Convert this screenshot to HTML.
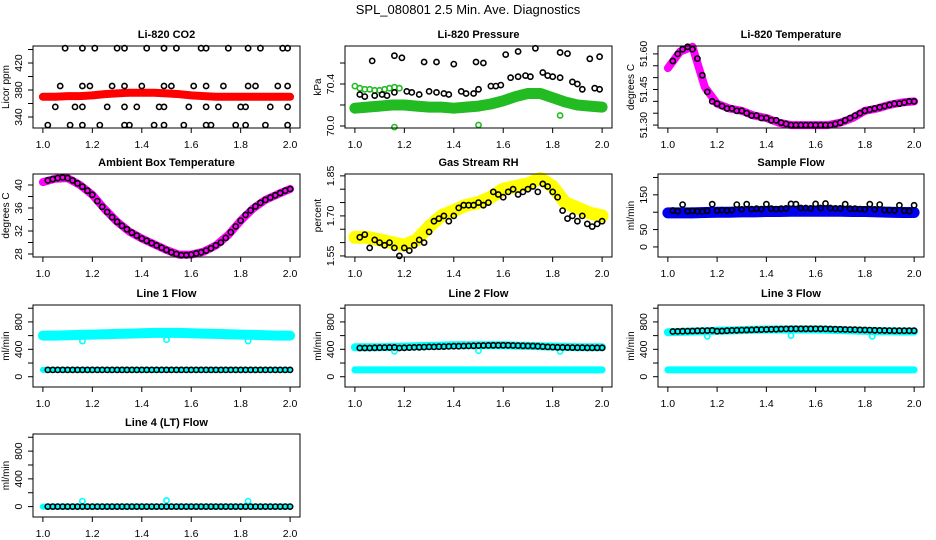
<!DOCTYPE html>
<html><head><meta charset="utf-8"><style>
html,body{margin:0;padding:0;background:#fff}
svg{display:block;font-family:"Liberation Sans",Arial,sans-serif}
</style></head><body>
<svg id="c" width="936" height="540" viewBox="0 0 936 540">
<rect width="936" height="540" fill="#fff"/>
<text x="468" y="14" text-anchor="middle" font-size="13">SPL_080801  2.5 Min. Ave. Diagnostics</text>
</svg>
<script>
const X50=[1.02,1.04,1.06,1.08,1.10,1.12,1.14,1.16,1.18,1.20,1.22,1.24,1.26,1.28,1.30,1.32,1.34,1.36,1.38,1.40,1.42,1.44,1.46,1.48,1.50,1.52,1.54,1.56,1.58,1.60,1.62,1.64,1.66,1.68,1.70,1.72,1.74,1.76,1.78,1.80,1.82,1.84,1.86,1.88,1.90,1.92,1.94,1.96,1.98,2.00];
const X21=[1.00,1.05,1.10,1.15,1.20,1.25,1.30,1.35,1.40,1.45,1.50,1.55,1.60,1.65,1.70,1.75,1.80,1.85,1.90,1.95,2.00];
const xTicks=[1.0,1.2,1.4,1.6,1.8,2.0];
const xTickLabels=["1.0","1.2","1.4","1.6","1.8","2.0"];

const co2BandY=[370,370,371,371,372,374,375,376,376,376,375,374,372,371,370,370,370,370,370,370,370];
const co2PtsX=[1.09,1.16,1.21,1.30,1.33,1.42,1.49,1.54,1.64,1.66,1.75,1.83,1.88,1.97,1.99,
1.07,1.16,1.19,1.28,1.33,1.40,1.49,1.52,1.61,1.66,1.73,1.83,1.86,1.95,1.99,
1.05,1.13,1.16,1.26,1.33,1.38,1.47,1.49,1.59,1.66,1.71,1.80,1.82,1.92,1.99,
1.02,1.11,1.16,1.23,1.33,1.35,1.45,1.49,1.57,1.66,1.68,1.78,1.82,1.90,1.99];
const co2PtsY=[442,442,442,442,442,442,442,442,442,442,442,442,442,442,442,
386,386,386,386,386,386,386,386,386,386,386,386,386,386,386,
355,355,355,355,355,355,355,355,355,355,355,355,355,355,355,
328,328,328,328,328,328,328,328,328,328,328,328,328,328,328];
const presBandY=[70.17,70.18,70.19,70.20,70.20,70.19,70.18,70.18,70.17,70.18,70.19,70.21,70.24,70.28,70.31,70.31,70.27,70.23,70.20,70.19,70.18];
const presGreenX=[1.00,1.02,1.04,1.06,1.08,1.10,1.12,1.14,1.16,1.18,1.16,1.50,1.83];
const presGreenY=[70.38,70.36,70.35,70.35,70.34,70.34,70.35,70.36,70.37,70.36,69.99,70.01,70.10];
const presPtsX=[1.07,1.16,1.19,1.28,1.33,1.40,1.49,1.52,1.61,1.66,1.73,1.83,1.86,1.95,1.99,
1.02,1.04,1.08,1.11,1.13,1.16,1.21,1.23,1.26,1.30,1.33,1.36,1.38,1.43,1.45,1.48,1.50,1.55,1.57,1.59,1.63,1.66,1.69,1.71,1.76,1.78,1.80,1.83,1.88,1.90,1.92,1.97,1.99];
const presPtsY=[70.62,70.67,70.65,70.61,70.61,70.59,70.61,70.60,70.68,70.71,70.74,70.70,70.69,70.64,70.66,
70.30,70.28,70.29,70.30,70.29,70.32,70.33,70.32,70.30,70.33,70.32,70.31,70.30,70.33,70.31,70.31,70.35,70.38,70.38,70.39,70.46,70.47,70.48,70.47,70.51,70.48,70.47,70.46,70.42,70.40,70.35,70.36,70.35];
const liTempY=[51.57,51.60,51.62,51.63,51.62,51.58,51.51,51.44,51.40,51.39,51.38,51.37,51.37,51.36,51.36,51.35,51.34,51.34,51.33,51.33,51.32,51.32,51.31,51.305,51.30,51.30,51.30,51.30,51.30,51.30,51.30,51.30,51.30,51.305,51.31,51.32,51.33,51.34,51.35,51.36,51.365,51.37,51.375,51.38,51.385,51.39,51.39,51.395,51.40,51.40];
const liTempBandY=[51.54,51.61,51.63,51.46,51.39,51.37,51.36,51.34,51.33,51.31,51.30,51.30,51.30,51.30,51.31,51.33,51.36,51.37,51.385,51.395,51.40];
const ambY=[40.8,41.0,41.2,41.3,41.2,40.8,40.3,39.7,39.0,38.3,37.2,36.2,35.3,34.4,33.6,32.9,32.3,31.7,31.2,30.7,30.3,29.9,29.5,29.1,28.7,28.3,28.0,27.8,27.8,27.9,28.1,28.3,28.6,29.0,29.5,30.0,30.8,31.8,32.8,33.8,34.8,35.6,36.3,36.9,37.4,37.8,38.2,38.6,39.0,39.3];
const ambBandY=[40.5,41.1,41.2,40.0,38.3,35.8,33.6,31.9,30.7,29.7,28.7,27.9,27.9,28.4,29.5,31.3,33.8,35.9,37.4,38.4,39.3];
const rhY=[1.62,1.63,1.58,1.61,1.60,1.59,1.60,1.58,1.55,1.58,1.57,1.59,1.61,1.60,1.64,1.68,1.69,1.70,1.68,1.70,1.73,1.74,1.74,1.74,1.75,1.74,1.75,1.79,1.78,1.77,1.79,1.80,1.78,1.79,1.80,1.81,1.79,1.82,1.81,1.79,1.77,1.72,1.69,1.70,1.68,1.70,1.67,1.66,1.67,1.68];
const rhBandY=[1.62,1.62,1.61,1.60,1.59,1.61,1.66,1.70,1.72,1.74,1.75,1.77,1.80,1.81,1.82,1.84,1.81,1.75,1.73,1.71,1.70];
const sampBandY=[98,98,98,99,100,100,101,101,102,102,103,103,103,103,103,102,102,101,100,99,99];
const sampY=[105,103,122,103,104,103,102,104,123,105,106,105,106,122,108,123,109,110,109,123,110,109,110,111,124,123,112,112,111,124,112,125,112,111,111,123,110,110,109,108,123,108,122,106,106,105,120,104,103,120];
const l1UpY=[600,600,605,610,615,620,625,630,635,640,640,640,635,630,625,620,615,610,605,600,600];
const l1LowY=[100,100,100,100,100,100,100,100,100,100,100,100,100,100,100,100,100,100,100,100,100];
const l1Black=[100,100,100,100,100,100,100,100,100,100,100,100,100,100,100,100,100,100,100,100,100,100,100,100,100,100,100,100,100,100,100,100,100,100,100,100,100,100,100,100,100,100,100,100,100,100,100,100,100,100];
const l1OutX=[1.16,1.50,1.83]; const l1OutY=[520,540,520];
const l2UpY=[430,430,430,435,440,445,450,455,460,460,460,460,460,455,450,445,440,435,430,430,430];
const l2LowY=[100,100,100,100,100,100,100,100,100,100,100,100,100,100,100,100,100,100,100,100,100];
const l2Black=[420,420,420,422,424,425,426,428,420,422,425,428,430,432,435,436,438,440,442,445,446,448,450,452,455,456,457,458,458,458,458,456,455,452,450,448,445,440,435,432,430,428,426,425,424,423,422,422,422,422];
const l2OutX=[1.16,1.50,1.83]; const l2OutY=[370,380,370];
const l3UpY=[650,655,660,665,670,675,680,685,690,690,690,690,690,685,680,675,670,665,665,660,660];
const l3LowY=[100,100,100,100,100,100,100,100,100,100,100,100,100,100,100,100,100,100,100,100,100];
const l3Black=[660,662,664,666,668,670,672,674,676,665,668,672,676,678,680,682,684,686,688,690,692,694,696,698,700,700,700,700,700,700,700,698,696,694,692,690,688,686,684,682,680,678,676,675,674,672,672,672,672,672];
const l3OutX=[1.16,1.50,1.83]; const l3OutY=[590,600,590];
const l4Band=[0,0,0,0,0,0,0,0,0,0,0,0,0,0,0,0,0,0,0,0,0];
const l4Black=[0,0,0,0,0,0,0,0,0,0,0,0,0,0,0,0,0,0,0,0,0,0,0,0,0,0,0,0,0,0,0,0,0,0,0,0,0,0,0,0,0,0,0,0,0,0,0,0,0,0];
const l4OutX=[1.16,1.50,1.83]; const l4OutY=[80,90,80];

const flowTicks=[0,200,400,600,800,1000]; const flowLabels=["0","","400","","800",""];

const NS="http://www.w3.org/2000/svg";
const svg=document.getElementById('c');
function el(tag,attrs,parent){const e=document.createElementNS(NS,tag);for(const k in attrs)e.setAttribute(k,attrs[k]);(parent||svg).appendChild(e);return e;}

function panel(cfg){
  const g=el('g',{});
  
  
  const [L,R]=cfg.xr,[T,B]=cfg.yr;
  const sx=v=>L+(v-0.96)/(1.08)*(R-L);
  const sy=v=>B-(v-cfg.yd[0])/(cfg.yd[1]-cfg.yd[0])*(B-T);
  (cfg.bands||[]).forEach(b=>{
    const pts=b.x.map((x,i)=>sx(x).toFixed(1)+','+sy(b.y[i]).toFixed(1)).join(' ');
    const p=el('polyline',{points:pts,fill:'none',stroke:b.c,'stroke-width':b.w,'stroke-linecap':'round','stroke-linejoin':'round'},g);
    
    
  });
  (cfg.pts||[]).forEach(s=>{
    const sg=el('g',{},g);
    
    
    s.x.forEach((x,i)=>{
      const c=el('circle',{cx:sx(x).toFixed(1),cy:sy(s.y[i]).toFixed(1),r:2.6,fill:'none',stroke:s.c,'stroke-width':1.6},sg);
      
      
    });
  });
  const box=el('rect',{x:L,y:T,width:R-L,height:B-T,fill:'none',stroke:'#000','stroke-width':1},g);
  
  
  const t=el('text',{x:(L+R)/2,y:T-8,'text-anchor':'middle','font-size':11,'font-weight':'bold'},g);
  t.textContent=cfg.title;
  
  
  xTicks.forEach((v,i)=>{
    el('line',{x1:sx(v),x2:sx(v),y1:B,y2:B+5,stroke:'#000'},g);
    const tl=el('text',{x:sx(v),y:B+20,'text-anchor':'middle','font-size':10.5},g);
    tl.textContent=xTickLabels[i];
    
    
  });
  cfg.yt.forEach((v,i)=>{
    const y=sy(v); if(y<T-1||y>B+1) return;
    el('line',{x1:L-5,x2:L,y1:y,y2:y,stroke:'#000'},g);
    if(cfg.yl[i]){
      const tl=el('text',{x:L-11,y:y,'text-anchor':'middle','font-size':10.5,transform:`rotate(-90 ${L-11} ${y})`},g);
      tl.textContent=cfg.yl[i];
      
      
    }
  });
  const yx=L-24,ym=(T+B)/2;
  const yt=el('text',{x:yx,y:ym,'text-anchor':'middle','font-size':10,transform:`rotate(-90 ${yx} ${ym})`},g);
  yt.textContent=cfg.ylab;
  
  
}
const C1=[33,300],C2=[345,612],C3=[658,924];
const R1=[46,128],R2=[174,257],R3=[305,387],R4=[434,517];

panel({name:'co2-panel',title:'Li-820 CO2',ylab:'Licor ppm',xr:C1,yr:R1,yd:[323.7,445.2],yt:[340,360,380,400,420,440],yl:['340','','380','','420',''],
  bands:[{n:'co2-band',x:X21,y:co2BandY,c:'#f00',w:8}],pts:[{n:'co2-points',x:co2PtsX,y:co2PtsY,c:'#000'}]});
panel({name:'pressure-panel',title:'Li-820 Pressure',ylab:'kPa',xr:C2,yr:R1,yd:[69.981,70.762],yt:[70.0,70.2,70.4,70.6],yl:['70.0','','70.4',''],
  bands:[{n:'pressure-band',x:X21,y:presBandY,c:'#22bb22',w:11}],pts:[{n:'pressure-green',x:presGreenX,y:presGreenY,c:'#22bb22'},{n:'pressure-points',x:presPtsX,y:presPtsY,c:'#000'}]});
panel({name:'li-temp-panel',title:'Li-820 Temperature',ylab:'degrees C',xr:C3,yr:R1,yd:[51.2877,51.6333],yt:[51.30,51.35,51.40,51.45,51.50,51.55,51.60],yl:['51.30','','','51.45','','','51.60'],
  bands:[{n:'li-temp-band',x:X21,y:liTempBandY,c:'#f0f',w:8}],pts:[{n:'li-temp-points',x:X50,y:liTempY,c:'#000'}]});
panel({name:'ambient-temp-panel',title:'Ambient Box Temperature',ylab:'degrees C',xr:C1,yr:R2,yd:[27.48,41.91],yt:[28,30,32,34,36,38,40],yl:['28','','32','','36','','40'],
  bands:[{n:'ambient-band',x:X21,y:ambBandY,c:'#f0f',w:8}],pts:[{n:'ambient-points',x:X50,y:ambY,c:'#000'}]});
panel({name:'rh-panel',title:'Gas Stream RH',ylab:'percent',xr:C2,yr:R2,yd:[1.546,1.857],yt:[1.55,1.60,1.65,1.70,1.75,1.80,1.85],yl:['1.55','','','1.70','','','1.85'],
  bands:[{n:'rh-band',x:X21,y:rhBandY,c:'#ffff00',w:13}],pts:[{n:'rh-points',x:X50,y:rhY,c:'#000'}]});
panel({name:'sample-flow-panel',title:'Sample Flow',ylab:'ml/min',xr:C3,yr:R2,yd:[-29,210],yt:[0,50,100,150,200],yl:['0','50','','150',''],
  bands:[{n:'sample-band',x:X21,y:sampBandY,c:'#0000ee',w:11}],pts:[{n:'sample-points',x:X50,y:sampY,c:'#000'}]});
panel({name:'line1-flow-panel',title:'Line 1 Flow',ylab:'ml/min',xr:C1,yr:R3,yd:[-150,1047],yt:flowTicks,yl:flowLabels,
  bands:[{n:'line1-upper-band',x:X21,y:l1UpY,c:'#00ffff',w:10},{n:'line1-lower-band',x:X21,y:l1LowY,c:'#00ffff',w:6}],
  pts:[{n:'line1-outliers',x:l1OutX,y:l1OutY,c:'#00ffff'},{n:'line1-points',x:X50,y:l1Black,c:'#000'}]});
panel({name:'line2-flow-panel',title:'Line 2 Flow',ylab:'ml/min',xr:C2,yr:R3,yd:[-150,1047],yt:flowTicks,yl:flowLabels,
  bands:[{n:'line2-upper-band',x:X21,y:l2UpY,c:'#00ffff',w:8},{n:'line2-lower-band',x:X21,y:l2LowY,c:'#00ffff',w:7}],
  pts:[{n:'line2-outliers',x:l2OutX,y:l2OutY,c:'#00ffff'},{n:'line2-points',x:X50,y:l2Black,c:'#000'}]});
panel({name:'line3-flow-panel',title:'Line 3 Flow',ylab:'ml/min',xr:C3,yr:R3,yd:[-150,1047],yt:flowTicks,yl:flowLabels,
  bands:[{n:'line3-upper-band',x:X21,y:l3UpY,c:'#00ffff',w:8},{n:'line3-lower-band',x:X21,y:l3LowY,c:'#00ffff',w:7}],
  pts:[{n:'line3-outliers',x:l3OutX,y:l3OutY,c:'#00ffff'},{n:'line3-points',x:X50,y:l3Black,c:'#000'}]});
panel({name:'line4-flow-panel',title:'Line 4 (LT) Flow',ylab:'ml/min',xr:C1,yr:R4,yd:[-150,1047],yt:flowTicks,yl:flowLabels,
  bands:[{n:'line4-band',x:X21,y:l4Band,c:'#00ffff',w:6}],
  pts:[{n:'line4-outliers',x:l4OutX,y:l4OutY,c:'#00ffff'},{n:'line4-points',x:X50,y:l4Black,c:'#000'}]});
</script>
</body></html>
